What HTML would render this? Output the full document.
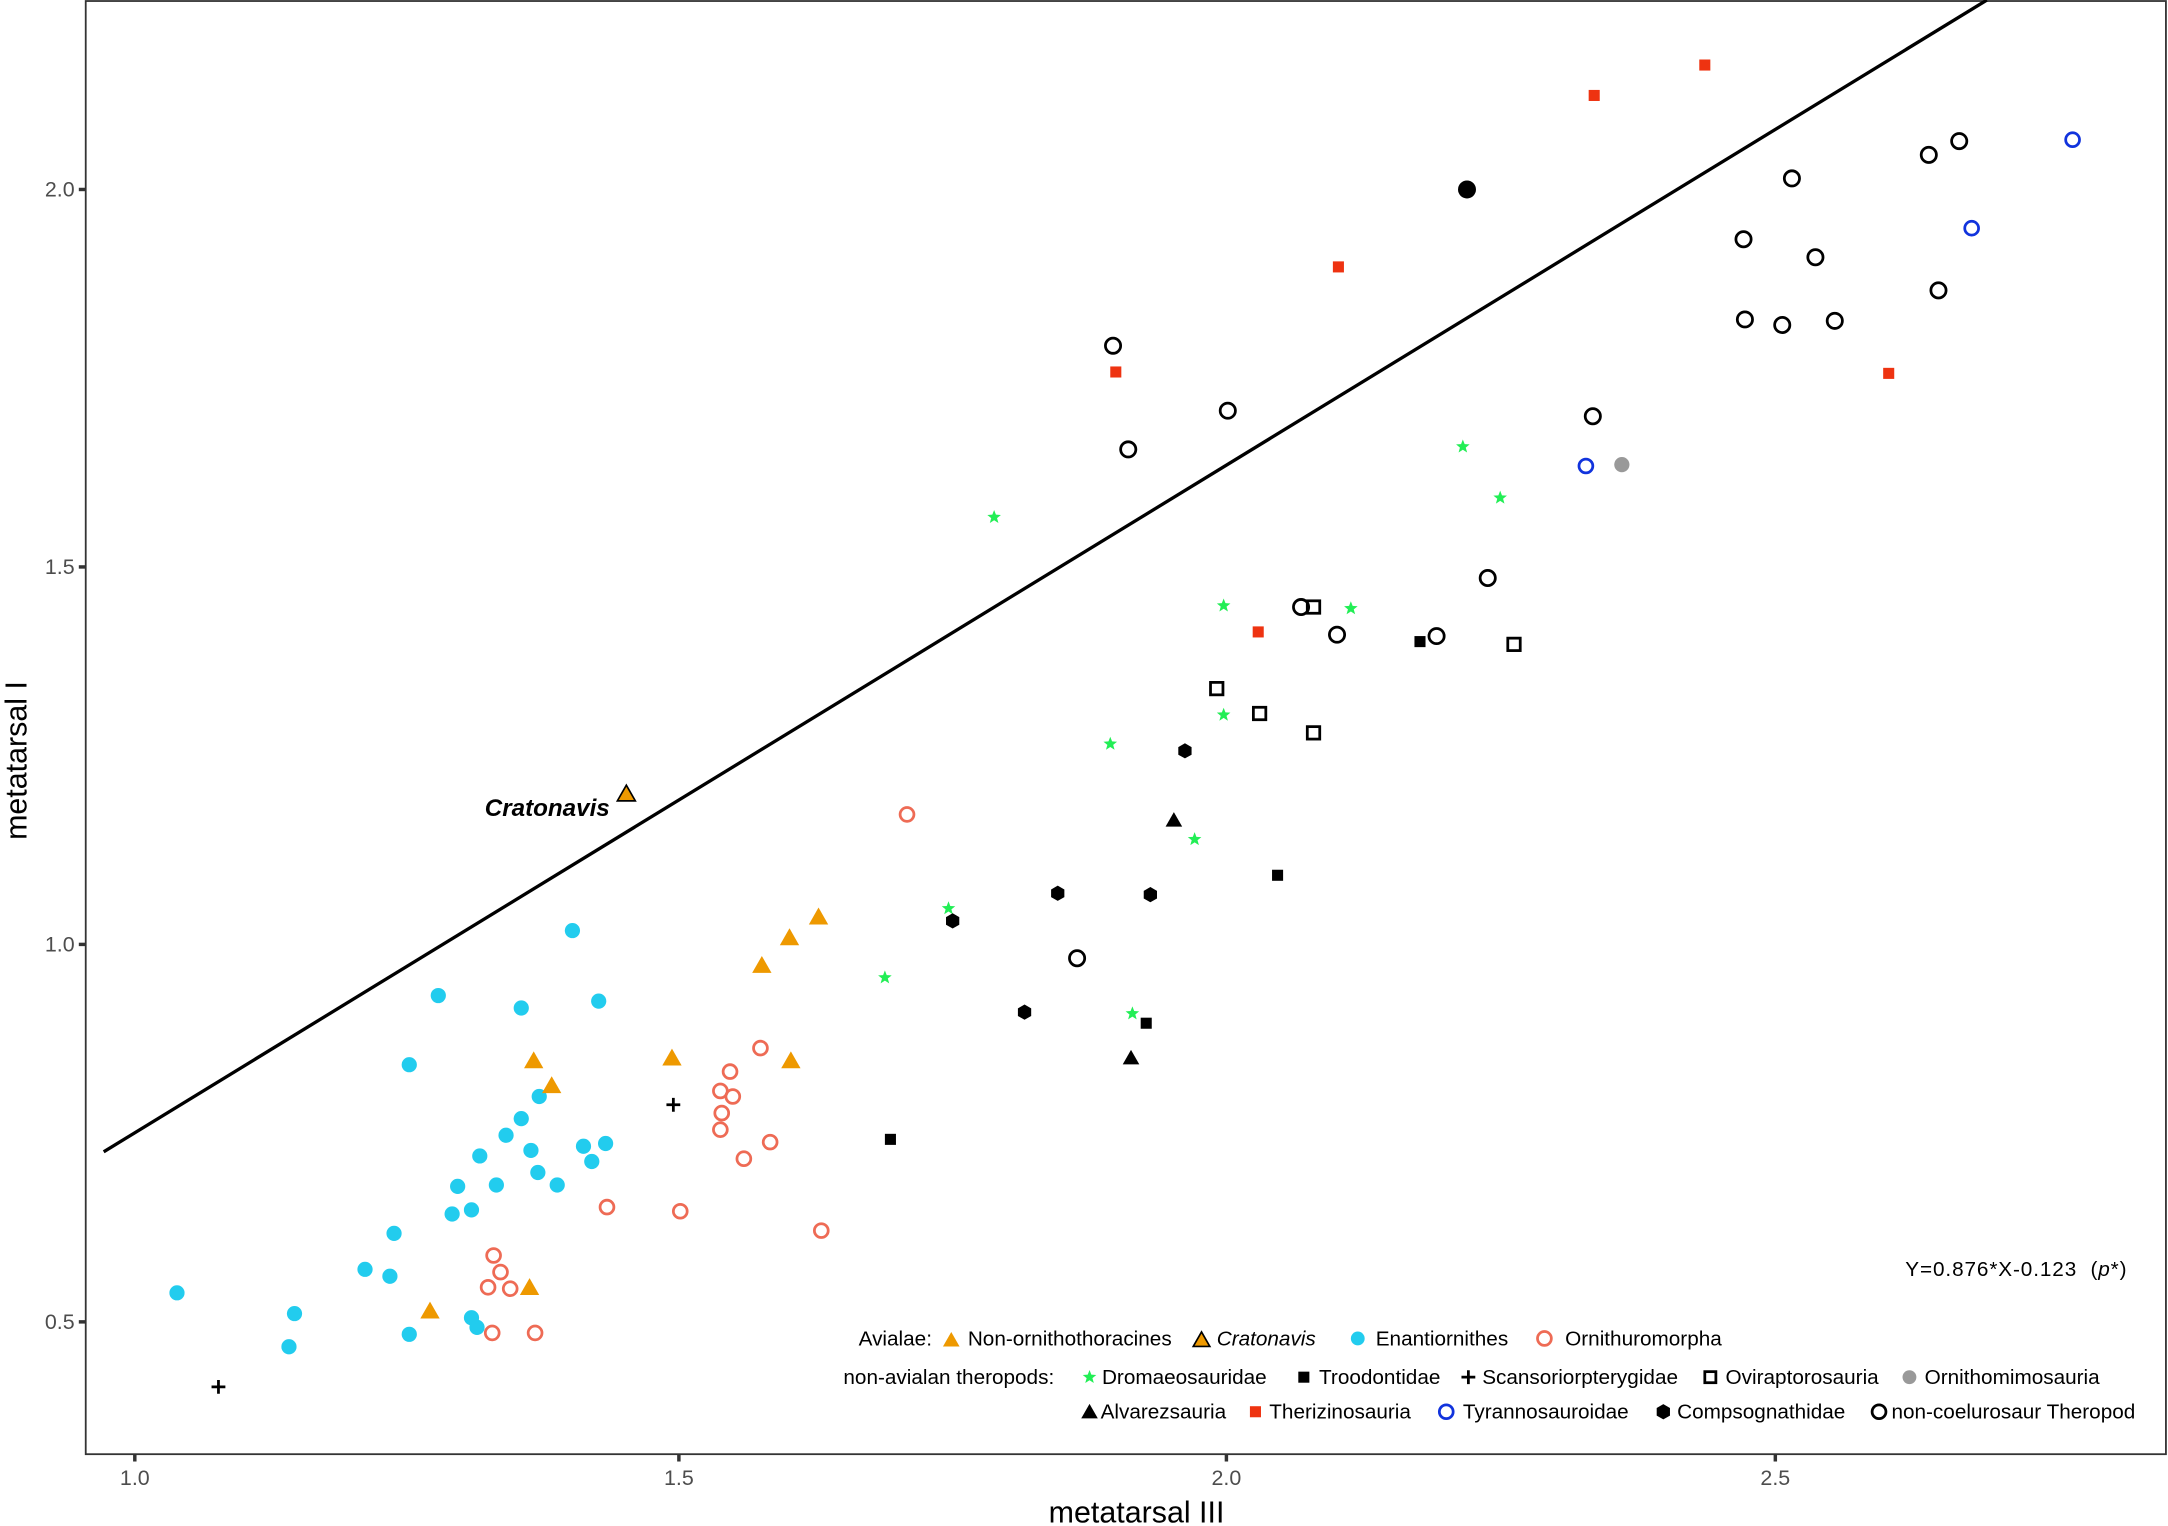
<!DOCTYPE html>
<html><head><meta charset="utf-8"><style>html,body{margin:0;padding:0;background:#fff}svg{display:block}</style></head>
<body>
<svg id="s" width="2168" height="1526" viewBox="0 0 1568 1103.6" xmlns="http://www.w3.org/2000/svg" font-family="Liberation Sans, Arial, sans-serif">
<rect x="0" y="0" width="1568" height="1103.6" fill="#fff"/>
<rect x="62" y="0.7" width="1504.5" height="1051" fill="none" stroke="#333" stroke-width="1.3"/>
<line x1="75" y1="833" x2="1437" y2="0" stroke="#000" stroke-width="2.4"/>
<g stroke="#333" stroke-width="2.5">
<line x1="97.5" y1="1052" x2="97.5" y2="1057"/><line x1="491" y1="1052" x2="491" y2="1057"/><line x1="887" y1="1052" x2="887" y2="1057"/><line x1="1284" y1="1052" x2="1284" y2="1057"/>
<line x1="57" y1="137" x2="62" y2="137"/><line x1="57" y1="410" x2="62" y2="410"/><line x1="57" y1="683" x2="62" y2="683"/><line x1="57" y1="956" x2="62" y2="956"/>
</g>
<g font-size="15.5" fill="#4d4d4d">
<text x="97.5" y="1074" text-anchor="middle">1.0</text><text x="491" y="1074" text-anchor="middle">1.5</text><text x="887" y="1074" text-anchor="middle">2.0</text><text x="1284" y="1074" text-anchor="middle">2.5</text>
<text x="54" y="142" text-anchor="end">2.0</text><text x="54" y="415" text-anchor="end">1.5</text><text x="54" y="688" text-anchor="end">1.0</text><text x="54" y="961" text-anchor="end">0.5</text>
</g>
<text x="822" y="1101" font-size="22" text-anchor="middle">metatarsal III</text>
<text transform="translate(19,550) rotate(-90)" font-size="22" text-anchor="middle">metatarsal I</text>
<text x="441" y="590" font-size="17.5" font-weight="bold" font-style="italic" text-anchor="end">Cratonavis</text>
<text x="1378" y="923" font-size="15" textLength="160">Y=0.876*X-0.123 &#160;(<tspan font-style="italic">p</tspan>*)</text>
<g id="pts"></g>
<g font-size="15" fill="#000">
<text x="621" y="973">Avialae:</text>
<text x="700" y="973">Non-ornithothoracines</text>
<text x="880" y="973" font-style="italic">Cratonavis</text>
<text x="995" y="973">Enantiornithes</text>
<text x="1132" y="973">Ornithuromorpha</text>
<text x="610" y="1001">non-avialan theropods:</text>
<text x="797" y="1001">Dromaeosauridae</text>
<text x="954" y="1001">Troodontidae</text>
<text x="1072" y="1001">Scansoriorpterygidae</text>
<text x="1248" y="1001">Oviraptorosauria</text>
<text x="1392" y="1001">Ornithomimosauria</text>
<text x="796" y="1026">Alvarezsauria</text>
<text x="918" y="1026">Therizinosauria</text>
<text x="1058" y="1026">Tyrannosauroidae</text>
<text x="1213" y="1026">Compsognathidae</text>
<text x="1368" y="1026">non-coelurosaur Theropod</text>
</g>
</svg>
<script>
var NS="http://www.w3.org/2000/svg",g=document.getElementById("pts");
function el(t,a){var e=document.createElementNS(NS,t);for(var k in a)e.setAttribute(k,a[k]);g.appendChild(e);}
function circ(x,y,c,r){el("circle",{cx:x,cy:y,r:r||5.5,fill:c});}
function ocirc(x,y,c,r){el("circle",{cx:x,cy:y,r:r||5,fill:"none",stroke:c,"stroke-width":2});}
function tri(x,y,c,s,st){s=s||7;el("polygon",{points:(x-s)+","+(y+s*0.8)+" "+(x+s)+","+(y+s*0.8)+" "+x+","+(y-s*0.95),fill:c,stroke:st||"none","stroke-width":1.2});}
function sq(x,y,c,s){s=s||4;el("rect",{x:x-s,y:y-s,width:2*s,height:2*s,fill:c});}
function osq(x,y,s){s=s||4.5;el("rect",{x:x-s,y:y-s,width:2*s,height:2*s,fill:"none",stroke:"#000","stroke-width":2});}
function plus(x,y){el("path",{d:"M"+(x-5)+" "+y+"H"+(x+5)+"M"+x+" "+(y-5)+"V"+(y+5),stroke:"#000","stroke-width":2});}
function star(x,y){var p=[];for(var i=0;i<10;i++){var r=i%2?2.2:5.2,a=-Math.PI/2+i*Math.PI/5;p.push((x+r*Math.cos(a)).toFixed(1)+","+(y+r*Math.sin(a)).toFixed(1));}el("polygon",{points:p.join(" "),fill:"#22ee55"});}
function hex(x,y){var p=[];for(var i=0;i<6;i++){var a=Math.PI/6+i*Math.PI/3;p.push((x+5.5*Math.cos(a)).toFixed(1)+","+(y+5.5*Math.sin(a)).toFixed(1));}el("polygon",{points:p.join(" "),fill:"#000"});}
var cy="#22ccee",or="#ee9900",sal="#ee6b55",red="#ee3311",bl="#1133dd";
[[128,935],[213,950],[209,974],[264,918],[282,923],[285,892],[296,965],[296,770],[317,720],[327,878],[331,858],[341,875],[341,953],[345,960],[347,836],[366,821],[359,857],[377,809],[384,832],[389,848],[390,793],[403,857],[414,673],[422,829],[428,840],[433,724],[438,827],[377,729]].forEach(function(p){circ(p[0],p[1],cy);});
[[311,948],[383,931],[386,767],[399,785],[486,765],[551,698],[571,678],[592,663],[572,767]].forEach(function(p){tri(p[0],p[1],or);});
tri(453,574,or,6.5,"#000");
[[357,908],[362,920],[353,931],[369,932],[356,964],[387,964],[439,873],[492,876],[521,789],[528,775],[530,793],[522,805],[521,817],[538,838],[550,758],[557,826],[594,890],[656,589]].forEach(function(p){ocirc(p[0],p[1],sal);});
plus(158,1003);plus(487,799);
[[719,374],[885,438],[977,440],[885,517],[803,538],[864,607],[686,657],[640,707],[819,733],[1058,323],[1085,360]].forEach(function(p){star(p[0],p[1]);});
[[644,824],[829,740],[924,633],[1027,464]].forEach(function(p){sq(p[0],p[1],"#000");});
tri(849,593,"#000",6);tri(818,765,"#000",6);
[[807,269],[968,193],[910,457],[1153,69],[1233,47],[1366,270]].forEach(function(p){sq(p[0],p[1],red);});
[[1147,337],[1426,165],[1499,101]].forEach(function(p){ocirc(p[0],p[1],bl);});
circ(1173,336,"#999");
[[857,543],[765,646],[832,647],[689,666],[741,732]].forEach(function(p){hex(p[0],p[1]);});
[[880,498],[911,516],[950,530],[950,439],[1095,466]].forEach(function(p){osq(p[0],p[1]);});
circ(1061,137,"#000",6.5);
[[805,250],[816,325],[888,297],[941,439],[967,459],[1039,460],[1076,418],[1152,301],[779,693],[1261,173],[1262,231],[1289,235],[1296,129],[1313,186],[1327,232],[1395,112],[1402,210],[1417,102]].forEach(function(p){ocirc(p[0],p[1],"#000",5.5);});
tri(688,969,or,6);tri(869,969,or,6,"#000");circ(982,968,cy,5);ocirc(1117,968,sal,5);
star(788,996);sq(943,996,"#000",4);plus(1062,996);osq(1237,996,4);circ(1381,996,"#999",5);
tri(788,1021,"#000",6);sq(908,1021,red,4);ocirc(1046,1021,bl,5);hex(1203,1021);ocirc(1359,1021,"#000",5);
</script>
</body></html>
